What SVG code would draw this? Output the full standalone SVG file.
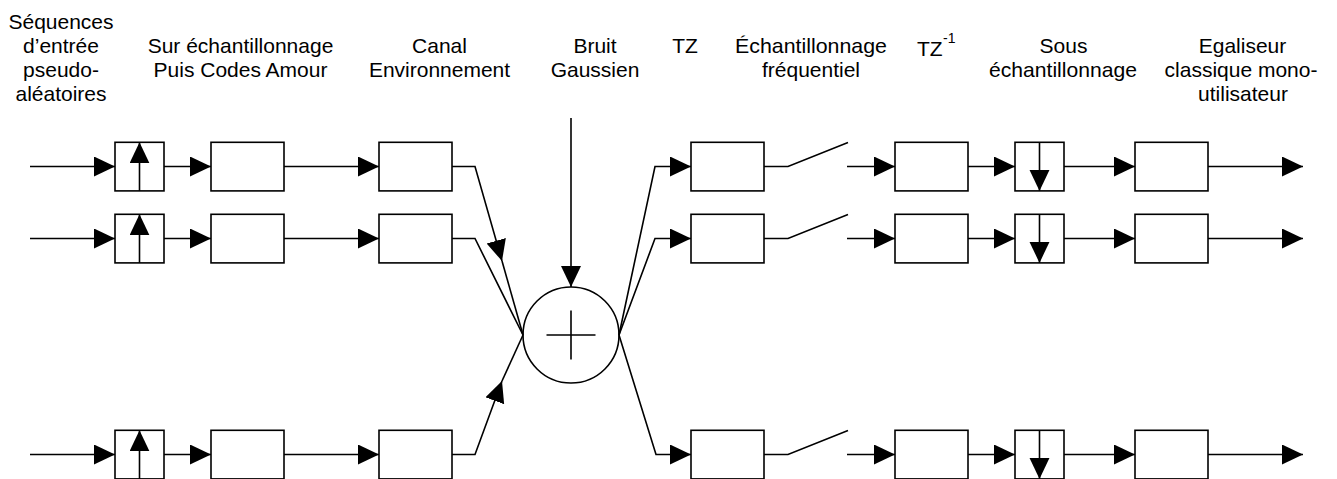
<svg xmlns="http://www.w3.org/2000/svg" width="1337" height="479" viewBox="0 0 1337 479">
  <style>
    .lbl { font-family: "Liberation Sans", Arial, sans-serif; font-size: 21px; fill: #000; text-anchor: middle; }
    .box { fill: #fff; stroke: #000; stroke-width: 1.6; }
    .wire { fill: none; stroke: #000; stroke-width: 1.6; }
  </style>
  <defs>
    <marker id="arrow" markerUnits="userSpaceOnUse" markerWidth="22" markerHeight="22" refX="21" refY="10" orient="auto">
      <path d="M0,0 L21,10 L0,20 z" fill="#000"/>
    </marker>
  </defs>

  <rect width="1337" height="479" fill="#fff"/>

  <!-- column headings -->
  <g id="labels">
    <text class="lbl" x="61" y="28.5">Séquences</text>
    <text class="lbl" x="61" y="52.5">d’entrée</text>
    <text class="lbl" x="61" y="76.5">pseudo-</text>
    <text class="lbl" x="61" y="100.5">aléatoires</text>
    <text class="lbl" x="240.5" y="52.5">Sur échantillonnage</text>
    <text class="lbl" x="240.5" y="76.5">Puis Codes Amour</text>
    <text class="lbl" x="439.5" y="52.5">Canal</text>
    <text class="lbl" x="439.5" y="76.5">Environnement</text>
    <text class="lbl" x="595" y="52.5">Bruit</text>
    <text class="lbl" x="595" y="76.5">Gaussien</text>
    <text class="lbl" x="685" y="52.5">TZ</text>
    <text class="lbl" x="811" y="52.5" textLength="152" lengthAdjust="spacingAndGlyphs">Échantillonnage</text>
    <text class="lbl" x="811" y="76.5">fréquentiel</text>
    <text class="lbl" x="917" y="56" style="text-anchor:start">TZ</text>
    <text class="lbl" x="943" y="43" style="text-anchor:start;font-size:14px">-1</text>
    <text class="lbl" x="1063.5" y="52.5">Sous</text>
    <text class="lbl" x="1063" y="76.5" textLength="148" lengthAdjust="spacingAndGlyphs">échantillonnage</text>
    <text class="lbl" x="1242.5" y="52.5">Egaliseur</text>
    <text class="lbl" x="1241" y="76.5">classique mono-</text>
    <text class="lbl" x="1243" y="100.5">utilisateur</text>
  </g>

  <!-- connectors -->
  <g id="connectors" class="wire">
    <!-- transmit chains -->
    <path d="M30,166.5 H115" marker-end="url(#arrow)"/>
    <path d="M164,166.5 H211" marker-end="url(#arrow)"/>
    <path d="M284,166.5 H379" marker-end="url(#arrow)"/>
    <path d="M30,238.5 H115" marker-end="url(#arrow)"/>
    <path d="M164,238.5 H211" marker-end="url(#arrow)"/>
    <path d="M284,238.5 H379" marker-end="url(#arrow)"/>
    <path d="M30,454.5 H115" marker-end="url(#arrow)"/>
    <path d="M164,454.5 H211" marker-end="url(#arrow)"/>
    <path d="M284,454.5 H379" marker-end="url(#arrow)"/>

    <!-- into the adder -->
    <path d="M452,166.5 H475 L502,261" marker-end="url(#arrow)"/>
    <path d="M502,261 L523,335"/>
    <path d="M452,238.5 H475 L523,335"/>
    <path d="M452,454.5 H475 L502,381" marker-end="url(#arrow)"/>
    <path d="M502,381 L523,335"/>
    <path d="M571,118 V287" marker-end="url(#arrow)"/>

    <!-- out of the adder -->
    <path d="M619,335 L655,166.5 H691" marker-end="url(#arrow)"/>
    <path d="M619,335 L655,238.5 H691" marker-end="url(#arrow)"/>
    <path d="M619,335 L656,454.5 H691" marker-end="url(#arrow)"/>

    <!-- sampling switches -->
    <path d="M764,166.5 H788 L848,142.5"/>
    <path d="M764,238.5 H788 L848,214.5"/>
    <path d="M764,454.5 H788 L848,430.5"/>

    <!-- receive chains -->
    <path d="M847,166.5 H895" marker-end="url(#arrow)"/>
    <path d="M968,166.5 H1015" marker-end="url(#arrow)"/>
    <path d="M1064,166.5 H1135" marker-end="url(#arrow)"/>
    <path d="M1208,166.5 H1303" marker-end="url(#arrow)"/>
    <path d="M847,238.5 H895" marker-end="url(#arrow)"/>
    <path d="M968,238.5 H1015" marker-end="url(#arrow)"/>
    <path d="M1064,238.5 H1135" marker-end="url(#arrow)"/>
    <path d="M1208,238.5 H1303" marker-end="url(#arrow)"/>
    <path d="M847,454.5 H895" marker-end="url(#arrow)"/>
    <path d="M968,454.5 H1015" marker-end="url(#arrow)"/>
    <path d="M1064,454.5 H1135" marker-end="url(#arrow)"/>
    <path d="M1208,454.5 H1303" marker-end="url(#arrow)"/>
  </g>

  <!-- upsamplers -->
  <g id="up1"><rect class="box" x="115" y="142.3" width="49" height="48.6"/><path class="wire" d="M139.5,190.9 V142.3" marker-end="url(#arrow)"/></g>
  <g id="up2"><rect class="box" x="115" y="214.3" width="49" height="48.6"/><path class="wire" d="M139.5,262.9 V214.3" marker-end="url(#arrow)"/></g>
  <g id="up3"><rect class="box" x="115" y="430.3" width="49" height="48.6"/><path class="wire" d="M139.5,478.9 V430.3" marker-end="url(#arrow)"/></g>

  <!-- spreading code blocks -->
  <g id="code1"><rect class="box" x="211" y="142.3" width="73" height="48.6"/></g>
  <g id="code2"><rect class="box" x="211" y="214.3" width="73" height="48.6"/></g>
  <g id="code3"><rect class="box" x="211" y="430.3" width="73" height="48.6"/></g>

  <!-- channels -->
  <g id="chan1"><rect class="box" x="379" y="142.3" width="73" height="48.6"/></g>
  <g id="chan2"><rect class="box" x="379" y="214.3" width="73" height="48.6"/></g>
  <g id="chan3"><rect class="box" x="379" y="430.3" width="73" height="48.6"/></g>

  <!-- adder -->
  <g id="adder">
    <circle cx="571" cy="335" r="48" fill="none" stroke="#000" stroke-width="1.6"/>
    <path class="wire" d="M546.5,335 H595.5 M571,310.5 V359.5"/>
  </g>

  <!-- Z transform -->
  <g id="tz1"><rect class="box" x="691" y="142.3" width="73" height="48.6"/></g>
  <g id="tz2"><rect class="box" x="691" y="214.3" width="73" height="48.6"/></g>
  <g id="tz3"><rect class="box" x="691" y="430.3" width="73" height="48.6"/></g>

  <!-- inverse Z transform -->
  <g id="itz1"><rect class="box" x="895" y="142.3" width="73" height="48.6"/></g>
  <g id="itz2"><rect class="box" x="895" y="214.3" width="73" height="48.6"/></g>
  <g id="itz3"><rect class="box" x="895" y="430.3" width="73" height="48.6"/></g>

  <!-- downsamplers -->
  <g id="down1"><rect class="box" x="1015" y="142.3" width="49" height="48.6"/><path class="wire" d="M1039.5,142.3 V190.9" marker-end="url(#arrow)"/></g>
  <g id="down2"><rect class="box" x="1015" y="214.3" width="49" height="48.6"/><path class="wire" d="M1039.5,214.3 V262.9" marker-end="url(#arrow)"/></g>
  <g id="down3"><rect class="box" x="1015" y="430.3" width="49" height="48.6"/><path class="wire" d="M1039.5,430.3 V478.9" marker-end="url(#arrow)"/></g>

  <!-- equalizers -->
  <g id="eq1"><rect class="box" x="1135" y="142.3" width="73" height="48.6"/></g>
  <g id="eq2"><rect class="box" x="1135" y="214.3" width="73" height="48.6"/></g>
  <g id="eq3"><rect class="box" x="1135" y="430.3" width="73" height="48.6"/></g>
</svg>
